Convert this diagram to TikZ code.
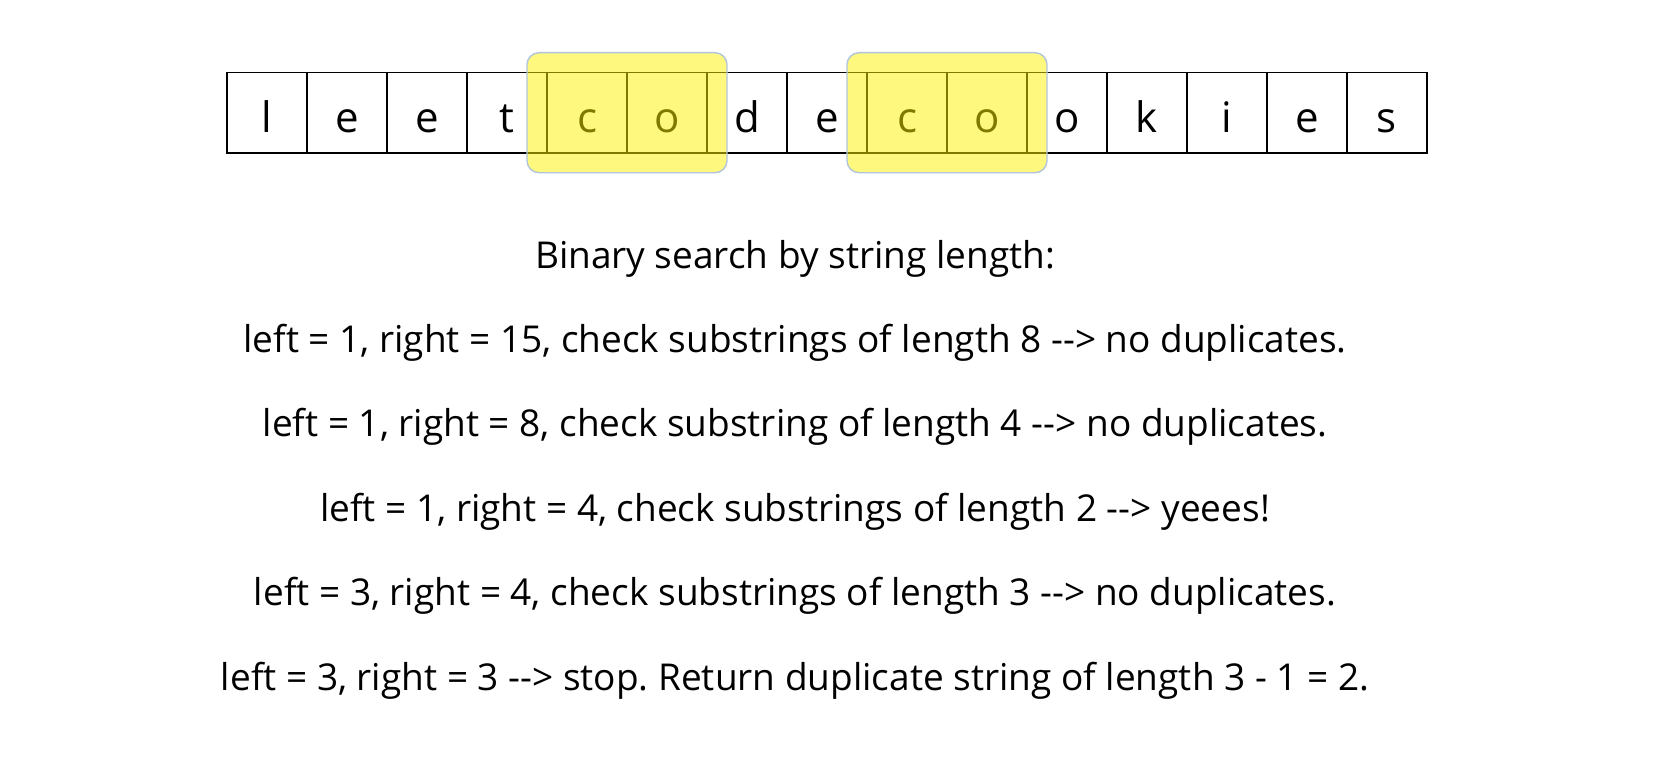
\documentclass[tikz,border=0pt]{standalone}
\usepackage{fontspec}
\setmainfont{Open Sans}
\usepackage{tikz}
\usetikzlibrary{positioning, fit}
\definecolor{markline}{RGB}{176,196,222}
\frenchspacing
\tikzset{
    cell_style/.style={
        rectangle,                 % one box per letter
        draw=black,
        line width=1.6pt,
        minimum size=80pt,
        inner sep=0pt,
        outer sep=0pt,
        text height=38.6pt,
        text depth=0pt,
        font=\fontsize{42}{48}\selectfont
    },
    mark_style/.style={
        rounded corners=12pt,      % yellow marker over repeated "co"
        fill=yellow,
        fill opacity=0.5,
        draw=markline,
        line width=1.4pt,
        inner sep=20pt
    },
    line_style/.style={
        inner sep=0pt,
        text height=30pt,
        text depth=10pt,
        font=\fontsize{37}{44}\selectfont
    }
}

\begin{document}
\begin{tikzpicture}[x=1pt, y=-1pt, node distance=44pt]
    \useasboundingbox (0,0) rectangle (1676,760);

    % 1. the string, one cell per letter
    \foreach \ch [count=\i] in {l,e,e,t,c,o,d,e,c,o,o,k,i,e,s}
        \node[cell_style] (c\i) at ({187+80*\i},112.7) {\ch};

    % 2. mark the duplicate substrings
    \node[mark_style, fit=(c5)(c6)] (dup1) {};
    \node[mark_style, fit=(c9)(c10)] (dup2) {};

    % 3. the search steps
    \node[line_style] (title) at (795,258) {Binary search by string length:};
    \node[line_style, below=of title] (step1) {left = 1, right = 15, check substrings of length 8 -{}-> no duplicates.};
    \node[line_style, below=of step1] (step2) {left = 1, right = 8, check substring of length 4 -{}-> no duplicates.};
    \node[line_style, below=of step2] (step3) {left = 1, right = 4, check substrings of length 2 -{}-> yeees!};
    \node[line_style, below=of step3] (step4) {left = 3, right = 4, check substrings of length 3 -{}-> no duplicates.};
    \node[line_style, below=of step4] (step5) {left = 3, right = 3 -{}-> stop. Return duplicate string of length 3 - 1 = 2.};
\end{tikzpicture}
\end{document}
